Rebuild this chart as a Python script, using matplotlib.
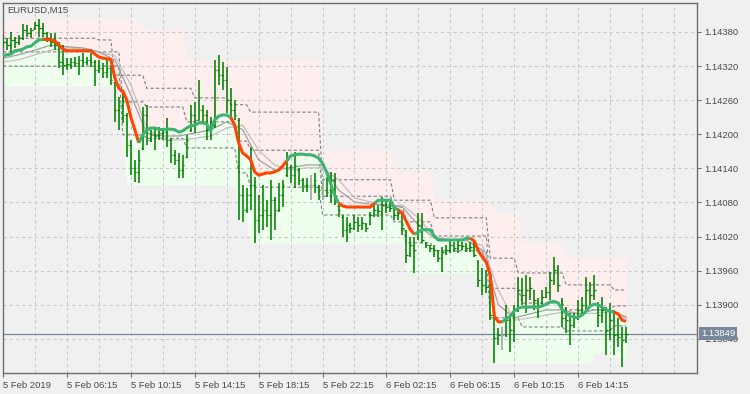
import numpy as np
import matplotlib
matplotlib.use("Agg")
import matplotlib.pyplot as plt
import matplotlib.transforms as mtransforms

plt.rcParams['font.family'] = ['Liberation Sans', 'DejaVu Sans']

# === EURUSD M15 bars (one value per bar, 5 Feb 02:15 -> 6 Feb 17:15) ===
opens = [
    1.14366, 1.14362, 1.14357, 1.14366, 1.14362, 1.14369, 1.14384, 1.14378, 1.14387, 1.14392,
    1.14387, 1.14378, 1.14369, 1.14362, 1.14357, 1.14327, 1.14322, 1.14322, 1.14327, 1.14325,
    1.14331, 1.14327, 1.14331, 1.14327, 1.14313, 1.14317, 1.14310, 1.14317, 1.14292, 1.14243,
    1.14252, 1.14234, 1.14181, 1.14141, 1.14134, 1.14176, 1.14234, 1.14190, 1.14199, 1.14199,
    1.14202, 1.14204, 1.14190, 1.14164, 1.14155, 1.14137, 1.14160, 1.14208, 1.14234, 1.14225,
    1.14243, 1.14234, 1.14208, 1.14216, 1.14313, 1.14304, 1.14296, 1.14260, 1.14243, 1.14225,
    1.14093, 1.14067, 1.14093, 1.14111, 1.14049, 1.14058, 1.14067, 1.14058, 1.14084, 1.14067,
    1.14093, 1.14128, 1.14142, 1.14128, 1.14137, 1.14120, 1.14111, 1.14111, 1.14111, 1.14107,
    1.14102, 1.14102, 1.14102, 1.14120, 1.14074, 1.14054, 1.14032, 1.14040, 1.14035, 1.14046,
    1.14040, 1.14042, 1.14042, 1.14058, 1.14067, 1.14067, 1.14076, 1.14072, 1.14070, 1.14058,
    1.14061, 1.14028, 1.13988, 1.14005, 1.14017, 1.14040, 1.14009, 1.14005, 1.14000, 1.13995,
    1.13982, 1.13993, 1.13996, 1.14005, 1.14000, 1.14005, 1.14003, 1.14000, 1.14002, 1.13975,
    1.13944, 1.13935, 1.13935, 1.13882, 1.13841, 1.13847, 1.13847, 1.13873, 1.13856, 1.13891,
    1.13926, 1.13917, 1.13926, 1.13926, 1.13908, 1.13903, 1.13915, 1.13922, 1.13944, 1.13961,
    1.13908, 1.13877, 1.13873, 1.13864, 1.13877, 1.13891, 1.13900, 1.13926, 1.13917, 1.13903,
    1.13882, 1.13891, 1.13856, 1.13873, 1.13847, 1.13847, 1.13838,
]
highs = [
    1.14375, 1.14369, 1.14380, 1.14371, 1.14375, 1.14394, 1.14392, 1.14387, 1.14398, 1.14403,
    1.14396, 1.14380, 1.14378, 1.14378, 1.14362, 1.14357, 1.14334, 1.14334, 1.14336, 1.14338,
    1.14343, 1.14336, 1.14343, 1.14331, 1.14331, 1.14325, 1.14334, 1.14320, 1.14292, 1.14266,
    1.14273, 1.14237, 1.14190, 1.14155, 1.14172, 1.14248, 1.14252, 1.14208, 1.14211, 1.14213,
    1.14211, 1.14229, 1.14193, 1.14172, 1.14167, 1.14164, 1.14199, 1.14252, 1.14257, 1.14296,
    1.14252, 1.14243, 1.14230, 1.14331, 1.14340, 1.14327, 1.14318, 1.14281, 1.14260, 1.14229,
    1.14111, 1.14105, 1.14178, 1.14125, 1.14093, 1.14111, 1.14084, 1.14120, 1.14090, 1.14114,
    1.14120, 1.14169, 1.14146, 1.14169, 1.14141, 1.14123, 1.14123, 1.14128, 1.14132, 1.14111,
    1.14120, 1.14125, 1.14134, 1.14132, 1.14076, 1.14058, 1.14054, 1.14044, 1.14058, 1.14054,
    1.14054, 1.14044, 1.14063, 1.14079, 1.14076, 1.14090, 1.14084, 1.14081, 1.14076, 1.14070,
    1.14063, 1.14032, 1.14019, 1.14019, 1.14061, 1.14061, 1.14010, 1.14005, 1.14005, 1.13996,
    1.14002, 1.14005, 1.14014, 1.14010, 1.14014, 1.14010, 1.14009, 1.14010, 1.14010, 1.13979,
    1.13965, 1.13961, 1.13944, 1.13894, 1.13859, 1.13861, 1.13900, 1.13882, 1.13900, 1.13949,
    1.13947, 1.13952, 1.13949, 1.13926, 1.13912, 1.13926, 1.13931, 1.13958, 1.13984, 1.13970,
    1.13912, 1.13896, 1.13885, 1.13885, 1.13908, 1.13914, 1.13949, 1.13940, 1.13952, 1.13905,
    1.13914, 1.13896, 1.13903, 1.13891, 1.13877, 1.13861, 1.13861,
]
lows = [
    1.14352, 1.14348, 1.14343, 1.14352, 1.14357, 1.14366, 1.14371, 1.14369, 1.14384, 1.14371,
    1.14371, 1.14362, 1.14354, 1.14348, 1.14317, 1.14304, 1.14313, 1.14315, 1.14318, 1.14304,
    1.14318, 1.14322, 1.14318, 1.14285, 1.14308, 1.14299, 1.14299, 1.14287, 1.14222, 1.14208,
    1.14220, 1.14160, 1.14128, 1.14116, 1.14114, 1.14172, 1.14181, 1.14186, 1.14172, 1.14190,
    1.14190, 1.14178, 1.14149, 1.14146, 1.14123, 1.14123, 1.14158, 1.14204, 1.14202, 1.14225,
    1.14222, 1.14190, 1.14190, 1.14211, 1.14287, 1.14278, 1.14237, 1.14229, 1.14225, 1.14049,
    1.14046, 1.14061, 1.14067, 1.14009, 1.14026, 1.14032, 1.14037, 1.14014, 1.14032, 1.14063,
    1.14072, 1.14125, 1.14114, 1.14105, 1.14111, 1.14098, 1.14098, 1.14084, 1.14097, 1.14084,
    1.14084, 1.14090, 1.14079, 1.14076, 1.14054, 1.14019, 1.14010, 1.14026, 1.14032, 1.14028,
    1.14032, 1.14028, 1.14040, 1.14054, 1.14054, 1.14032, 1.14061, 1.14063, 1.14049, 1.14049,
    1.14023, 1.13973, 1.13984, 1.13956, 1.14014, 1.14009, 1.14000, 1.13993, 1.13984, 1.13975,
    1.13958, 1.13988, 1.13991, 1.13993, 1.13991, 1.13996, 1.13993, 1.13993, 1.13984, 1.13931,
    1.13917, 1.13921, 1.13873, 1.13797, 1.13829, 1.13820, 1.13843, 1.13817, 1.13834, 1.13887,
    1.13900, 1.13885, 1.13908, 1.13891, 1.13877, 1.13900, 1.13912, 1.13908, 1.13935, 1.13922,
    1.13861, 1.13850, 1.13829, 1.13859, 1.13873, 1.13882, 1.13891, 1.13896, 1.13908, 1.13861,
    1.13868, 1.13812, 1.13838, 1.13812, 1.13826, 1.13790, 1.13833,
]
closes = [
    1.14362, 1.14357, 1.14366, 1.14362, 1.14369, 1.14384, 1.14378, 1.14384, 1.14392, 1.14387,
    1.14378, 1.14369, 1.14362, 1.14357, 1.14327, 1.14322, 1.14324, 1.14327, 1.14325, 1.14331,
    1.14327, 1.14331, 1.14327, 1.14313, 1.14317, 1.14310, 1.14317, 1.14296, 1.14243, 1.14252,
    1.14234, 1.14181, 1.14141, 1.14134, 1.14155, 1.14234, 1.14190, 1.14199, 1.14197, 1.14202,
    1.14204, 1.14190, 1.14164, 1.14155, 1.14137, 1.14146, 1.14190, 1.14234, 1.14225, 1.14243,
    1.14234, 1.14208, 1.14216, 1.14313, 1.14304, 1.14296, 1.14260, 1.14243, 1.14234, 1.14093,
    1.14067, 1.14093, 1.14111, 1.14049, 1.14058, 1.14067, 1.14058, 1.14084, 1.14067, 1.14093,
    1.14111, 1.14155, 1.14128, 1.14146, 1.14120, 1.14111, 1.14109, 1.14111, 1.14120, 1.14102,
    1.14102, 1.14098, 1.14120, 1.14084, 1.14067, 1.14032, 1.14040, 1.14035, 1.14046, 1.14040,
    1.14044, 1.14035, 1.14058, 1.14067, 1.14065, 1.14076, 1.14072, 1.14070, 1.14058, 1.14061,
    1.14035, 1.13988, 1.14005, 1.13996, 1.14040, 1.14014, 1.14005, 1.14000, 1.13996, 1.13982,
    1.13993, 1.13996, 1.14005, 1.14000, 1.14005, 1.14003, 1.14000, 1.14002, 1.13988, 1.13944,
    1.13935, 1.13931, 1.13882, 1.13841, 1.13847, 1.13847, 1.13873, 1.13856, 1.13891, 1.13926,
    1.13917, 1.13926, 1.13929, 1.13908, 1.13900, 1.13914, 1.13922, 1.13944, 1.13961, 1.13935,
    1.13877, 1.13873, 1.13864, 1.13877, 1.13891, 1.13900, 1.13926, 1.13917, 1.13926, 1.13882,
    1.13891, 1.13856, 1.13873, 1.13847, 1.13843, 1.13838, 1.13849,
]

# === indicator: main line, colour runs (first run = rising) ===
ma_line = [
    1.14338, 1.14340, 1.14341, 1.14347, 1.14348, 1.14350, 1.14354, 1.14355, 1.14361, 1.14366,
    1.14367, 1.14367, 1.14366, 1.14364, 1.14357, 1.14350, 1.14347, 1.14347, 1.14347, 1.14347,
    1.14347, 1.14347, 1.14347, 1.14341, 1.14336, 1.14334, 1.14333, 1.14331, 1.14299, 1.14281,
    1.14276, 1.14260, 1.14230, 1.14208, 1.14185, 1.14199, 1.14208, 1.14211, 1.14211, 1.14209,
    1.14208, 1.14209, 1.14209, 1.14208, 1.14204, 1.14206, 1.14211, 1.14215, 1.14216, 1.14220,
    1.14220, 1.14218, 1.14206, 1.14225, 1.14232, 1.14234, 1.14234, 1.14230, 1.14216, 1.14185,
    1.14167, 1.14162, 1.14155, 1.14134, 1.14128, 1.14130, 1.14132, 1.14132, 1.14134, 1.14137,
    1.14144, 1.14153, 1.14162, 1.14164, 1.14165, 1.14165, 1.14164, 1.14164, 1.14162, 1.14158,
    1.14149, 1.14134, 1.14114, 1.14093, 1.14079, 1.14074, 1.14072, 1.14072, 1.14072, 1.14072,
    1.14072, 1.14072, 1.14072, 1.14079, 1.14084, 1.14084, 1.14084, 1.14084, 1.14070, 1.14067,
    1.14061, 1.14046, 1.14032, 1.14024, 1.14028, 1.14032, 1.14032, 1.14032, 1.14021, 1.14014,
    1.14014, 1.14014, 1.14014, 1.14014, 1.14014, 1.14014, 1.14017, 1.14017, 1.14012, 1.13995,
    1.13984, 1.13975, 1.13952, 1.13880, 1.13870, 1.13870, 1.13875, 1.13880, 1.13889, 1.13894,
    1.13896, 1.13896, 1.13896, 1.13896, 1.13896, 1.13898, 1.13901, 1.13905, 1.13906, 1.13903,
    1.13892, 1.13885, 1.13880, 1.13878, 1.13878, 1.13882, 1.13889, 1.13898, 1.13901, 1.13900,
    1.13896, 1.13891, 1.13889, 1.13887, 1.13884, 1.13873, 1.13871,
]
ma_runs = [11, 24, 23, 14, 13, 9, 6, 4, 14, 8, 28, 3]

# slower gray lines, read every 4th bar
gray_bars = list(range(0, 157, 4))
gray_fast = [
    1.14334, 1.14340, 1.14348, 1.14357, 1.14354, 1.14352, 1.14345, 1.14331, 1.14269, 1.14202,
    1.14197, 1.14197, 1.14202, 1.14208, 1.14222, 1.14208, 1.14155, 1.14137, 1.14141, 1.14146,
    1.14146, 1.14102, 1.14081, 1.14077, 1.14076, 1.14072, 1.14040, 1.14017, 1.14014, 1.14014,
    1.13996, 1.13900, 1.13877, 1.13884, 1.13891, 1.13891, 1.13884, 1.13891, 1.13891, 1.13877,
]
gray_slow = [
    1.14327, 1.14331, 1.14340, 1.14348, 1.14352, 1.14350, 1.14345, 1.14338, 1.14287, 1.14211,
    1.14190, 1.14190, 1.14193, 1.14197, 1.14211, 1.14216, 1.14172, 1.14146, 1.14137, 1.14141,
    1.14141, 1.14120, 1.14088, 1.14081, 1.14072, 1.14076, 1.14053, 1.14019, 1.14014, 1.14012,
    1.14005, 1.13926, 1.13873, 1.13877, 1.13882, 1.13887, 1.13885, 1.13885, 1.13887, 1.13880,
]

# channel fill edges and dashed levels as (level, number of bars)
fill_top = [1.14403, 1.14396, 1.14389, 1.14384, 1.14331, 1.14172, 1.14134, 1.14084, 1.14061, 1.14009, 1.13984]
fill_top_runs = [34, 1, 1, 10, 34, 18, 10, 15, 7, 11, 16]
fill_bot = [1.14285, 1.14190, 1.14111, 1.14046, 1.14009, 1.13956, 1.13891, 1.13797, 1.13815, 1.13806]
fill_bot_runs = [30, 1, 28, 3, 39, 21, 1, 25, 4, 5]

dash_hi_runs = [24, 4, 8, 12, 9, 5, 18, 18, 10, 14, 7, 12, 12, 4]
dash_hi = [1.14369, 1.14366, 1.14304, 1.14281, 1.14264, 1.14252, 1.14239, 1.14120, 1.14084, 1.14053,
           1.13982, 1.13956, 1.13935, 1.13926]
dash_runs = [30, 6, 10, 13, 3, 18, 18, 3, 7, 14, 8, 11, 12, 4]
dash_mid = [1.14345, 1.14257, 1.14248, 1.14222, 1.14188, 1.14172, 1.14091, 1.14072, 1.14046, 1.14021,
            1.13929, 1.13903, 1.13891, 1.13898]
dash_lo = [1.14320, 1.14199, 1.14193, 1.14176, 1.14132, 1.14107, 1.14058, 1.14046, 1.14009, 1.13995,
           1.13877, 1.13861, 1.13854, 1.13863]

# axis labels
price_ticks = [1.13840, 1.13900, 1.13960, 1.14020, 1.14080, 1.14140, 1.14200, 1.14260, 1.14320, 1.14380]
time_labels = ["5 Feb 2019", "5 Feb 06:15", "5 Feb 10:15", "5 Feb 14:15", "5 Feb 18:15",
               "5 Feb 22:15", "6 Feb 02:15", "6 Feb 06:15", "6 Feb 10:15", "6 Feb 14:15"]
last_price = 1.13849

# === colours ===
BG = '#f0f0f0'
BAR = '#008000'
MA_UP = '#3cb371'
MA_DN = '#ff4500'
TXT = '#4a4a4a'

n = len(closes)
idx = np.arange(n)
o, h, l, c = map(np.array, (opens, highs, lows, closes))
ma = np.array(ma_line)

fig = plt.figure(figsize=(7.5, 3.94), dpi=100)
fig.patch.set_facecolor(BG)
ax = fig.add_axes([3 / 750, 21 / 394, 694 / 750, 370 / 394])
ax.set_facecolor(BG)
ax.set_xlim(0.25, 173.75)
ax.set_ylim(1.13780, 1.14431)

# channel fills
top = np.repeat(fill_top, fill_top_runs)
bot = np.repeat(fill_bot, fill_bot_runs)
ax.fill_between(idx, top, ma, color='#ffeeee', lw=0, zorder=1)
ax.fill_between(idx, ma, bot, color='#eeffee', lw=0, zorder=1)

# grid
for k in range(8, 169, 8):
    ax.axvline(k, color='#c8c8c8', lw=0.75, dashes=(3, 3), zorder=1.5)
for p in price_ticks:
    ax.axhline(p, color='#c8c8c8', lw=0.75, dashes=(3, 3), zorder=1.5)

# dashed levels
ax.plot(idx, np.repeat(dash_hi, dash_hi_runs), color='#808080', lw=0.8, dashes=(3, 2), zorder=2)
for lev in (dash_mid, dash_lo):
    ax.plot(idx, np.repeat(lev, dash_runs), color='#808080', lw=0.8, dashes=(3, 2), zorder=2)

# gray slow lines
ax.plot(gray_bars, gray_slow, color='#c0c0c0', lw=0.9, zorder=2.2)
ax.plot(gray_bars, gray_fast, color='#a0a0a0', lw=0.9, zorder=2.3)

# current price line
ax.axhline(last_price, color='#778899', lw=0.9, zorder=2.4)

# OHLC bars
cols = np.where(o == c, '#a0a0a0', BAR)
ax.vlines(idx, l, h, colors=cols, lw=1.15, zorder=3)
ax.hlines(o, idx - 0.4, idx, colors=cols, lw=0.9, zorder=3)
ax.hlines(c, idx, idx + 0.4, colors=cols, lw=0.9, zorder=3)

# main line in colour runs
start = 0
for k, run in enumerate(ma_runs):
    col = MA_UP if k % 2 == 0 else MA_DN
    lo = max(start - 1, 0)
    ax.plot(idx[lo:start + run], ma[lo:start + run], color=col, lw=2.2,
            solid_capstyle='butt', solid_joinstyle='round', zorder=4)
    start += run

# axes styling
for sp in ax.spines.values():
    sp.set_color('#6e6e6e')
    sp.set_linewidth(1.0)
ax.yaxis.tick_right()
ax.set_yticks(price_ticks)
ax.set_yticklabels([f"{p:.5f}" for p in price_ticks])
ax.set_xticks(range(0, 160, 16))
ax.set_xticklabels(time_labels, ha='left')
ax.tick_params(axis='both', direction='out', length=3, width=0.8, color='#6e6e6e',
               labelsize=6.8, labelcolor=TXT)
ax.tick_params(axis='y', pad=2)
ax.tick_params(axis='x', pad=3)

ax.text(4 / 694, 1 - 7 / 370, "EURUSD,M15", transform=ax.transAxes, fontsize=6.8,
        color=TXT, va='center', ha='left')

trans = mtransforms.blended_transform_factory(ax.transAxes, ax.transData)
ax.text(1 + 4 / 694, last_price, f"{last_price:.5f}", transform=trans, fontsize=6.8,
        color='white', va='center', ha='left', zorder=10,
        bbox=dict(boxstyle='square,pad=0.2', fc='#778899', ec='none'))

fig.savefig('out.png', dpi=100, facecolor=BG)
